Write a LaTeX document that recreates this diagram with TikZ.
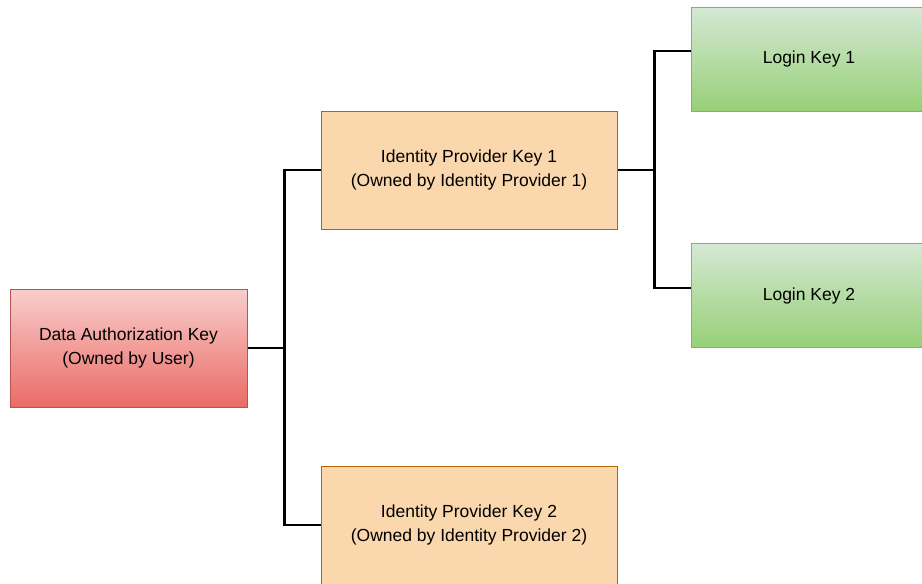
\documentclass[tikz,border=0pt]{standalone}
\usepackage{fontspec}
\setmainfont{Liberation Sans}
\usetikzlibrary{calc}

\definecolor{redtop}{HTML}{F8CECC}
\definecolor{redbot}{HTML}{EA6B66}
\definecolor{redline}{HTML}{B85450}
\definecolor{orfill}{HTML}{FAD7AC}
\definecolor{orline}{HTML}{B46504}
\definecolor{grtop}{HTML}{D5E8D4}
\definecolor{grbot}{HTML}{97D077}
\definecolor{grline}{HTML}{82B366}

\tikzset{
  keybox/.style = {rectangle, draw, line width = 1pt, align = center,
    text = black, font = \fontsize{17.5}{23.5}\selectfont, inner sep = 0pt},
  userkey/.style = {keybox, draw = redline, top color = redtop,
    bottom color = redbot, minimum width = 237pt, minimum height = 118pt},
  idpkey/.style = {keybox, draw = orline, fill = orfill,
    minimum width = 296pt, minimum height = 118pt},
  loginkey/.style = {keybox, draw = grline, top color = grtop,
    bottom color = grbot, minimum width = 236pt, minimum height = 104pt},
  link/.style = {line width = 2.5pt, black}
}

\begin{document}
\begin{tikzpicture}[x = 1pt, y = 1pt]
    \useasboundingbox (0,0) rectangle (922,-584);
    \clip (0,0) rectangle (922,-584);
    \node[userkey] (dak) at (128.5,-348)
      {Data Authorization Key\\(Owned by User)};
    \node[idpkey] (idp1) at (469,-170)
      {Identity Provider Key 1\\(Owned by Identity Provider 1)};
    \node[idpkey] (idp2) at (469,-525)
      {Identity Provider Key 2\\(Owned by Identity Provider 2)};
    \node[loginkey] (login1) at (809,-59) {Login Key 1};
    \node[loginkey] (login2) at (809,-295.5) {Login Key 2};
    % user key to the two identity provider keys
    \draw[link] (dak.east) -- ++(37,0) |- (idp1.west);
    \draw[link] (dak.east) -- ++(37,0) |- (idp2.west);
    % identity provider key 1 to its login keys
    \draw[link] (idp1.east) -- ++(37,0) |- ([yshift=8pt]login1.west);
    \draw[link] (idp1.east) -- ++(37,0) |- ([yshift=7.5pt]login2.west);
\end{tikzpicture}
\end{document}
